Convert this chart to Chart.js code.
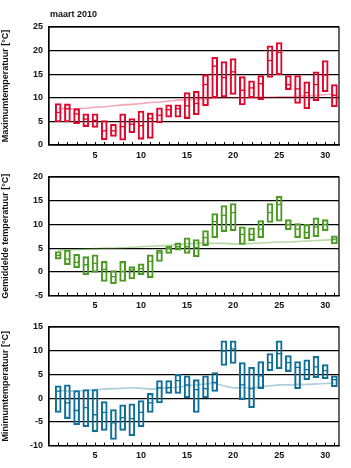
<!DOCTYPE html>
<html>
<head>
<meta charset="utf-8">
<script src="https://cdn.jsdelivr.net/npm/chart.js@4.4.1/dist/chart.umd.min.js"></script>
<style>
  html, body { margin: 0; padding: 0; background: #fff; }
  #page { position: relative; width: 351px; height: 468px; overflow: hidden; }
  .panel { position: absolute; left: 0; width: 351px; }
</style>
</head>
<body>
<div id="page">
  <div class="panel" style="top:7px;height:153px"><canvas id="maxChart"></canvas></div>
  <div class="panel" style="top:156.7px;height:153.6px"><canvas id="meanChart"></canvas></div>
  <div class="panel" style="top:306.7px;height:153.6px"><canvas id="minChart"></canvas></div>
</div>
<script>
const days = [1, 2, 3, 4, 5, 6, 7, 8, 9, 10, 11, 12, 13, 14, 15, 16, 17, 18, 19, 20, 21, 22, 23, 24, 25, 26, 27, 28, 29, 30, 31];

// maximumtemperatuur
const maxLow = [4.9, 4.9, 4.5, 3.9, 3.7, 1.1, 1.8, 1.0, 2.6, 1.2, 1.4, 4.7, 5.9, 5.9, 5.6, 6.4, 8.3, 10.0, 10.2, 10.7, 8.5, 10.0, 9.6, 14.3, 14.9, 11.7, 8.8, 7.7, 9.4, 11.3, 8.1];
const maxHigh = [8.8, 8.7, 7.7, 6.6, 6.6, 5.2, 4.4, 6.6, 5.6, 7.2, 6.8, 7.9, 8.5, 8.5, 11.1, 11.4, 14.9, 18.6, 17.7, 18.3, 14.5, 13.6, 14.7, 21.0, 21.7, 14.7, 14.7, 13.4, 15.5, 17.9, 12.8];
const maxMid = [6.9, 7.7, 6.6, 5.5, 5.2, 3.0, 3.0, 3.9, 4.4, 4.1, 5.6, 6.3, 7.5, 7.7, 8.3, 8.8, 12.8, 16.7, 14.3, 15.5, 11.6, 12.1, 13.0, 17.9, 19.6, 12.8, 11.9, 11.1, 12.8, 14.8, 10.5];
const maxNormal = [7.7, 7.7, 7.7, 7.8, 8.0, 8.1, 8.3, 8.5, 8.6, 8.8, 9.0, 9.1, 9.3, 9.5, 9.6, 9.7, 9.8, 9.9, 10.0, 10.0, 10.0, 10.0, 10.1, 10.1, 10.2, 10.2, 10.3, 10.4, 10.5, 10.7, 10.8];

// gemiddelde temperatuur
const meanLow = [2.7, 1.5, 0.9, -0.6, -0.1, -2.0, -2.5, -2.0, -1.5, -0.6, -1.2, 2.2, 3.9, 4.6, 3.9, 3.2, 5.5, 7.2, 8.5, 8.7, 5.8, 6.6, 7.2, 10.4, 10.7, 8.9, 7.2, 7.0, 7.4, 8.7, 5.9];
const meanHigh = [4.3, 4.6, 3.7, 3.2, 3.6, 2.2, 0.3, 2.2, 1.1, 1.7, 3.6, 4.6, 5.4, 6.1, 7.2, 6.8, 8.7, 12.3, 14.0, 14.4, 9.5, 9.3, 10.8, 14.4, 15.9, 11.0, 10.2, 10.0, 11.4, 11.0, 7.6];
const meanMid = [3.5, 2.7, 2.0, 1.5, 1.8, 0.5, -1.0, 0.1, 0.4, 0.7, 2.2, 4.0, 4.9, 5.3, 5.3, 5.1, 7.2, 10.6, 11.9, 12.5, 7.9, 7.9, 9.0, 12.5, 14.2, 10.0, 9.0, 8.3, 9.5, 10.0, 6.9];
const meanNormal = [4.5, 4.6, 4.7, 4.8, 4.9, 5.0, 5.0, 5.1, 5.2, 5.3, 5.4, 5.5, 5.6, 5.8, 5.9, 6.0, 6.0, 6.0, 6.0, 5.9, 5.9, 6.0, 6.1, 6.2, 6.3, 6.3, 6.4, 6.5, 6.6, 6.7, 6.8];

// minimumtemperatuur
const minLow = [-3.0, -4.3, -5.6, -6.0, -7.1, -6.8, -8.7, -6.8, -7.9, -6.0, -3.0, -1.0, 1.0, 1.0, 0.1, -3.0, 0.1, 1.4, 6.9, 7.3, -0.3, -2.0, 2.0, 5.8, 6.2, 5.6, 2.0, 3.9, 4.3, 4.1, 2.4];
const minHigh = [2.6, 2.8, 1.6, 1.8, 1.8, -0.7, -2.4, -1.4, -1.2, -0.5, 1.0, 3.7, 3.7, 5.0, 4.7, 3.9, 4.7, 5.4, 12.1, 12.1, 7.5, 6.5, 7.7, 9.4, 12.1, 9.0, 7.7, 8.1, 8.8, 7.1, 4.7];
const minMid = [1.5, -1.0, -2.6, -2.0, -3.5, -3.0, -5.2, -4.1, -4.3, -3.0, -1.0, 2.2, 2.2, 3.7, 2.8, 1.8, 2.0, 3.3, 9.9, 10.4, 2.8, 2.0, 4.7, 7.5, 9.4, 7.5, 6.5, 6.0, 6.6, 5.8, 3.9];
const minNormal = [1.6, 1.5, 1.5, 1.6, 1.8, 1.9, 2.0, 2.1, 2.2, 2.1, 1.9, 2.0, 2.2, 2.3, 2.6, 2.8, 3.0, 3.1, 2.6, 2.2, 2.2, 2.2, 2.4, 2.6, 2.8, 2.8, 2.9, 2.9, 3.0, 3.1, 3.2];

const fontFamily = '"Liberation Sans", Arial, Helvetica, sans-serif';

// frame round the plot area + small day ticks pointing inwards
const framePlugin = {
  id: 'frame',
  afterDraw(chart, args, opts) {
    const ctx = chart.ctx;
    const area = chart.chartArea;
    const xScale = chart.scales.x;
    ctx.save();
    ctx.strokeStyle = '#000';
    ctx.lineWidth = 1.2;
    ctx.strokeRect(area.left, area.top, area.right - area.left, area.bottom - area.top);
    ctx.lineWidth = 1;
    days.forEach(d => {
      const x = Math.round(xScale.getPixelForValue(d)) + 0.5;
      ctx.beginPath();
      ctx.moveTo(x, area.bottom);
      ctx.lineTo(x, area.bottom - 3);
      ctx.stroke();
    });
    if (opts.title) {
      ctx.fillStyle = '#111';
      ctx.font = 'bold 9px ' + fontFamily;
      ctx.textBaseline = 'alphabetic';
      ctx.fillText(opts.title, area.left + 1, area.top - 10);
    }
    ctx.restore();
  }
};

function makePanel(canvasId, cfg) {
  const ctx = document.getElementById(canvasId);
  new Chart(ctx, {
    type: 'bar',
    data: {
      datasets: [
        {
          type: 'line',
          data: days.map((d, i) => ({ x: d, y: cfg.normal[i] })),
          borderColor: cfg.normalColor,
          borderWidth: 1.6,
          pointRadius: 0,
          tension: 0.4,
          order: 3
        },
        {
          type: 'bar',
          data: days.map((d, i) => ({ x: d, y: [cfg.low[i], cfg.high[i]] })),
          backgroundColor: 'rgba(255,255,255,0)',
          borderColor: cfg.color,
          borderWidth: 1.4,
          borderSkipped: false,
          barThickness: 6,
          order: 2
        },
        {
          type: 'scatter',
          data: days.map((d, i) => ({ x: d, y: cfg.mid[i] })),
          pointStyle: 'line',
          pointRadius: 3,
          borderColor: cfg.color,
          borderWidth: 1.3,
          order: 1
        }
      ]
    },
    options: {
      responsive: true,
      maintainAspectRatio: false,
      animation: false,
      layout: { padding: { left: 0, right: 12, top: 20, bottom: 0 } },
      plugins: {
        legend: { display: false },
        tooltip: { enabled: false },
        frame: { title: cfg.title }
      },
      scales: {
        x: {
          type: 'linear',
          min: 0,
          max: 31.5,
          offset: false,
          grid: { display: false, drawTicks: false },
          border: { color: '#000', width: 1.2 },
          ticks: {
            stepSize: 1,
            autoSkip: false,
            maxRotation: 0,
            padding: 5,
            color: '#111',
            font: { family: fontFamily, size: 9, weight: 'bold' },
            callback: v => (v % 5 === 0 && v > 0 ? String(v) : '')
          },
          afterFit: scale => { scale.height = 15; }
        },
        y: {
          min: cfg.yMin,
          max: cfg.yMax,
          grid: { color: '#000', lineWidth: 1.2, drawTicks: false },
          border: { color: '#000', width: 1.2 },
          ticks: {
            stepSize: 5,
            padding: 6,
            color: '#111',
            font: { family: fontFamily, size: 9, weight: 'bold' }
          },
          title: {
            display: true,
            text: cfg.yTitle,
            color: '#111',
            padding: { top: 0, bottom: 0 },
            font: { family: fontFamily, size: 9, weight: 'bold' }
          },
          afterFit: scale => { scale.width = 49; }
        }
      }
    },
    plugins: [framePlugin]
  });
}

makePanel('maxChart', {
  low: maxLow, high: maxHigh, mid: maxMid, normal: maxNormal,
  color: '#e2062c', normalColor: 'rgba(226,6,44,0.35)',
  yMin: 0, yMax: 25, yTitle: 'Maximumtemperatuur [°C]', title: 'maart 2010'
});
makePanel('meanChart', {
  low: meanLow, high: meanHigh, mid: meanMid, normal: meanNormal,
  color: '#4c9a24', normalColor: 'rgba(76,154,36,0.4)',
  yMin: -5, yMax: 20, yTitle: 'Gemiddelde temperatuur [°C]'
});
makePanel('minChart', {
  low: minLow, high: minHigh, mid: minMid, normal: minNormal,
  color: '#0f6f98', normalColor: 'rgba(15,111,152,0.35)',
  yMin: -10, yMax: 15, yTitle: 'Minimumtemperatuur [°C]'
});
</script>
</body>
</html>
